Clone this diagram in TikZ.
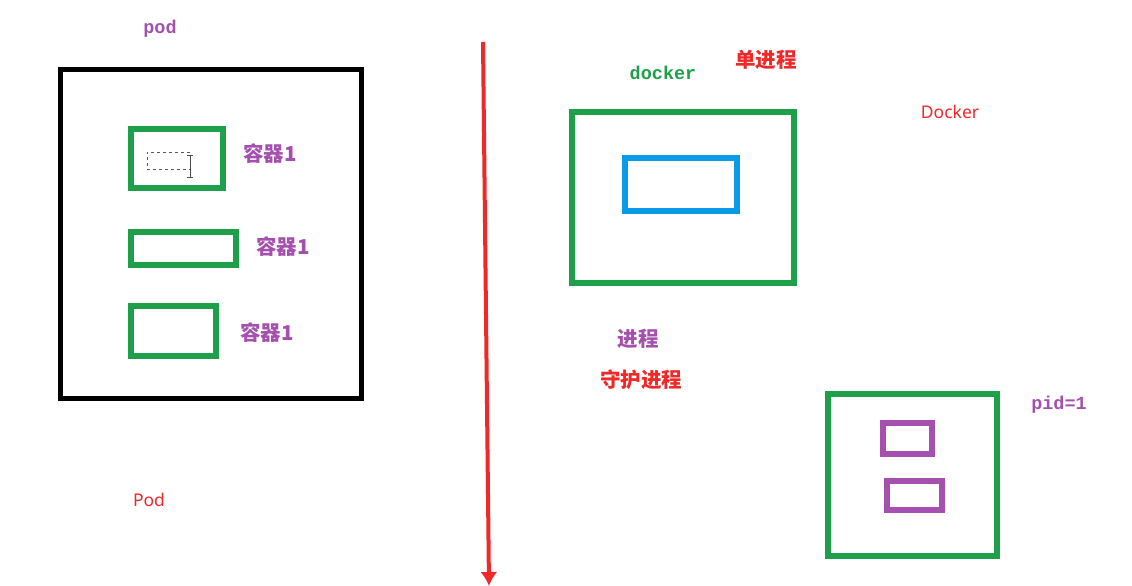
\documentclass[tikz,border=0pt]{standalone}
\usepackage{fontspec}
\usepackage{tikz}
\usetikzlibrary{arrows.meta}
\setmainfont{Noto Sans}
\newfontfamily\cjk{Noto Sans CJK SC}
\newfontfamily\monofnt{Liberation Mono}
\definecolor{boxgreen}{RGB}{30,160,75}
\definecolor{boxblue}{RGB}{10,155,230}
\definecolor{boxpurple}{RGB}{165,80,175}
\definecolor{labelred}{RGB}{240,40,40}
\tikzset{
	greenbox/.style={draw=boxgreen,line width=5.5pt,inner sep=0pt},
	monolabel/.style={font=\monofnt\bfseries\fontsize{18.5}{18.5}\selectfont},
	cjklabel/.style={font=\cjk\bfseries\fontsize{20.5}{20.5}\selectfont},
	sanslabel/.style={text=labelred,font=\fontsize{17.5}{17.5}\selectfont}
}

\begin{document}
\begin{tikzpicture}[x=1pt,y=-1pt]
	\useasboundingbox (0,0) rectangle (1132,586);
	% left side: pod
	\node[monolabel,text=boxpurple] (podtxt) at (160,29) {pod};
	\node[draw=black,line width=5pt,minimum width=301pt,minimum height=328pt,inner sep=0pt] (pod) at (210.5,234) {};
	\node[greenbox,minimum width=92pt,minimum height=59pt] (c1) at (177,158.5) {};
	\node[draw=gray!70!black,dashed,line width=1pt,minimum width=43pt,minimum height=17pt,inner sep=0pt] (sel) at (168.5,160.5) {};
	\draw[line width=1pt,gray!60!black] (190,155) -- (190,177) (187,155) -- (193,155) (187,177) -- (193,177);
	\node[cjklabel,text=boxpurple] (c1txt) at (270,154) {容器1};
	\node[greenbox,minimum width=105pt,minimum height=33pt] (c2) at (183.5,248.5) {};
	\node[cjklabel,text=boxpurple] (c2txt) at (283,247) {容器1};
	\node[greenbox,minimum width=85pt,minimum height=50pt] (c3) at (173.5,331) {};
	\node[cjklabel,text=boxpurple] (c3txt) at (267,333) {容器1};
	\node[sanslabel] (podlbl) at (149,500) {Pod};
	% divider
	\coordinate (top) at (483,42);
	\coordinate (bot) at (489,586);
	\draw[labelred,line width=4pt,-{Latex[length=14pt,width=17pt]}] (top) -- (bot);
	% right side: docker
	\node[monolabel,text=boxgreen] (dockertxt) at (663,73) {docker};
	\node[cjklabel,text=labelred] (single) at (766,60) {单进程};
	\node[greenbox,minimum width=222pt,minimum height=171pt] (docker) at (683,197.5) {};
	\node[draw=boxblue,line width=5.5pt,minimum width=112pt,minimum height=53pt,inner sep=0pt] (proc) at (681,184.5) {};
	\node[sanslabel] (dockerlbl) at (950,112) {Docker};
	\node[cjklabel,text=boxpurple] (jc) at (638,339) {进程};
	\node[cjklabel,text=labelred] (daemon) at (641,380) {守护进程};
	\node[greenbox,minimum width=169pt,minimum height=162pt] (pidbox) at (912.5,475) {};
	\node[draw=boxpurple,line width=5.5pt,minimum width=49pt,minimum height=31pt,inner sep=0pt] (p1) at (907.5,438.5) {};
	\node[draw=boxpurple,line width=5.5pt,minimum width=55pt,minimum height=29pt,inner sep=0pt] (p2) at (914.5,495.5) {};
	\node[monolabel,text=boxpurple] (pidtxt) at (1059,405) {pid=1};
\end{tikzpicture}
\end{document}
